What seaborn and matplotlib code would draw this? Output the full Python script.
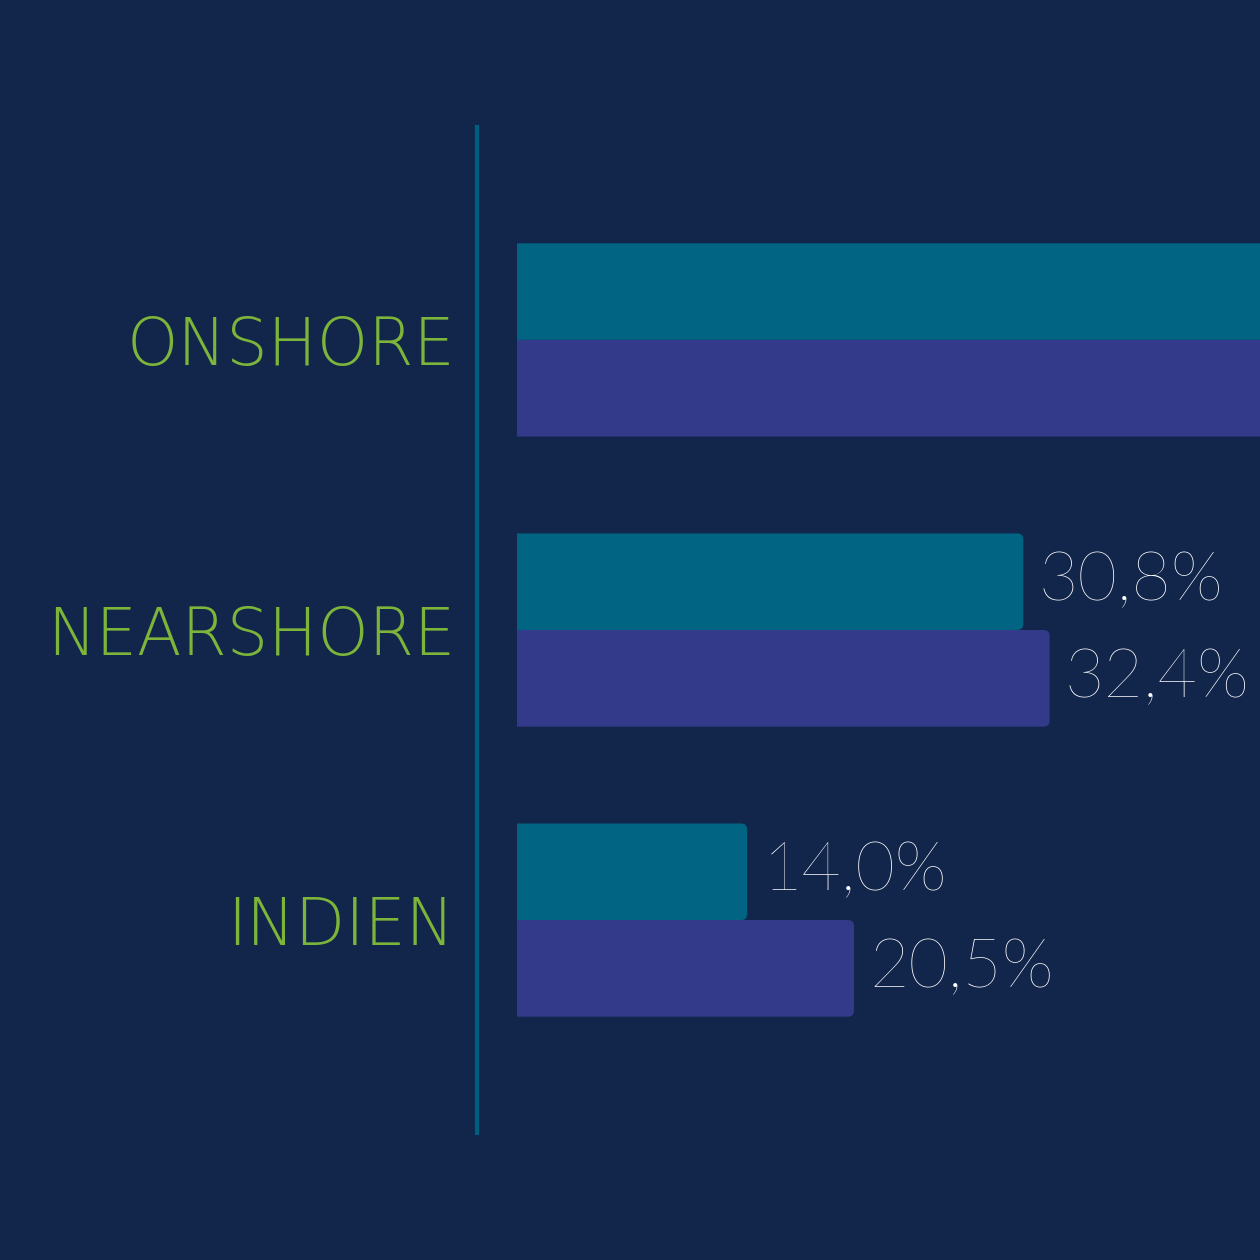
import matplotlib
matplotlib.use("Agg")
import matplotlib.pyplot as plt
import seaborn as sns
import pandas as pd
from matplotlib.patches import FancyBboxPatch

# ---- data ----
categories = ["ONSHORE", "NEARSHORE", "INDIEN"]
series_names = ["Serie 1", "Serie 2"]
series1_values = [52.0, 30.8, 14.0]
series2_values = [54.0, 32.4, 20.5]
value_labels_1 = ["52,0%", "30,8%", "14,0%"]
value_labels_2 = ["54,0%", "32,4%", "20,5%"]

# ---- style ----
BG = "#12264b"
TEAL = "#006482"
PURPLE = "#343a8a"
GREEN = "#7cb53a"
LINE = "#005f7e"
XMAX = 45.2

df = pd.DataFrame({
    "category": categories * 2,
    "series": [series_names[0]] * 3 + [series_names[1]] * 3,
    "value": series1_values + series2_values,
})

sns.set_theme(style="white")
plt.rcParams["font.family"] = ["DejaVu Sans"]

W, H = 1260, 1260
fig = plt.figure(figsize=(12.6, 12.6), dpi=100, facecolor=BG)
ax = fig.add_axes([517 / W, (H - 1133) / H, (W - 517) / W, 1006 / H])
ax.set_facecolor(BG)

sns.barplot(data=df, y="category", x="value", hue="series", orient="h",
            palette=[TEAL, PURPLE], width=0.666, dodge=True, gap=0,
            linewidth=0, edgecolor="none", saturation=1, legend=False, ax=ax)

ax.set_xlim(0, XMAX)
ax.set_ylim(2.734, -0.734)

# rounded right corners: rebuild each seaborn bar as a rounded box
x_px_per_unit = (W - 517) / XMAX
y_px_per_unit = 1006 / (2.734 + 0.734)
r_px = 6
rx = r_px / x_px_per_unit
aspect = (r_px / y_px_per_unit) / rx
for p in list(ax.patches):
    x, y, w, h = p.get_x(), p.get_y(), p.get_width(), p.get_height()
    fc = p.get_facecolor()
    p.remove()
    ax.add_patch(FancyBboxPatch((x - 2, y), w + 2, h,
                                boxstyle=f"round,pad=0,rounding_size={rx}",
                                mutation_aspect=aspect, fc=fc, ec="none", lw=0))

# value labels (only where they fit inside the canvas, as in the reference)
for cont, labels in zip(ax.containers, [value_labels_1, value_labels_2]):
    for bar, lab in zip(cont, labels):
        end = bar.get_x() + bar.get_width()
        if end > XMAX * 0.85:
            continue
        ax.annotate(lab, (end, bar.get_y() + bar.get_height() / 2),
                    xytext=(11, 0), textcoords="offset points", ha="left", va="center",
                    color="white", fontsize=49, fontfamily="Lato", fontweight="light",
                    annotation_clip=False)

# axes styling
for s in ["top", "right", "bottom"]:
    ax.spines[s].set_visible(False)
ax.spines["left"].set_position(("outward", 40 * 72 / 100))
ax.spines["left"].set_color(LINE)
ax.spines["left"].set_linewidth(3)
ax.set_xticks([])
ax.set_xlabel("")
ax.set_ylabel("")
ax.tick_params(axis="y", length=0, pad=16, labelsize=47, labelcolor=GREEN)
for t in ax.get_yticklabels():
    t.set_fontweight("light")

fig.savefig("out.png", dpi=100, facecolor=BG)
